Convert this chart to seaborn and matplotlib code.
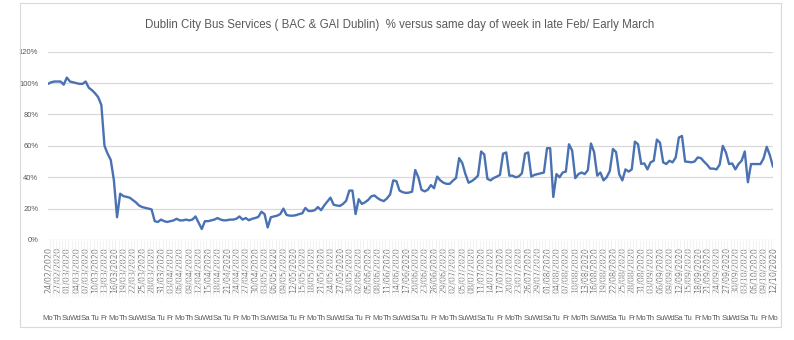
import numpy as np
import pandas as pd
import matplotlib
matplotlib.use("Agg")
import matplotlib.pyplot as plt
import seaborn as sns
from matplotlib.patches import Rectangle

# Daily range covered by the series
start_date = "2020-02-24"
end_date = "2020-10-12"

# Weekday abbreviations used on the second label row (Mon..Sun)
day_abbr = ["Mo", "Tu", "Wd", "Th", "Fr", "Sa", "Su"]

# Y axis ticks (percent)
y_ticks = [0, 20, 40, 60, 80, 100, 120]

title = ("Dublin City Bus Services ( BAC & GAI Dublin)  % versus same day of week "
         "in late Feb/ Early March")

# Passenger level, % of the same weekday in late Feb / early March (one row per week, Mon..Sun)
pct_of_baseline = [
    99.5, 100.5, 101, 101, 101, 99, 103.5,
    101, 100.5, 100, 99.5, 99.5, 101, 97,
    95.5, 93.5, 91, 86, 60, 55, 51,
    38, 14.5, 29.5, 28, 27.5, 27, 25.5,
    24, 22, 21, 20.5, 20, 19.5, 12,
    11.5, 13, 12, 11.5, 12, 12.5, 13.5,
    12.5, 12.5, 13, 12.5, 13, 15, 11,
    7, 12, 12, 12.5, 13, 14, 13,
    12.5, 12.6, 13, 13, 13.5, 15, 13,
    14, 12.6, 13.5, 14, 14.7, 18, 16.5,
    8, 14.5, 15, 15.5, 16.5, 20, 16,
    15.5, 15.5, 15.8, 16.5, 17, 20.4, 18.5,
    18.5, 19, 21, 19, 22, 24.5, 27,
    22.5, 22, 21.7, 23, 25, 31.5, 31.5,
    16.5, 26, 23, 24, 25.5, 27.8, 28.4,
    26.7, 25.5, 24.8, 26.5, 29, 38, 37.5,
    31.5, 30.5, 30, 30.2, 30.8, 44.6, 40,
    32, 31, 32, 35, 33, 40.4, 38,
    36.5, 35.8, 35.8, 37.8, 39.5, 52.2, 49,
    42, 36.5, 37.5, 39, 41, 56.4, 54.5,
    39, 38, 39.5, 40.4, 41.5, 55, 55.8,
    41, 41, 40, 40.5, 42.5, 55, 55.8,
    40.4, 41.5, 42, 42.5, 43, 58.5, 58.5,
    27.4, 42, 40, 43, 43.6, 61, 57,
    39.4, 42, 43, 42, 44.5, 61.5, 56,
    41, 43, 38, 40, 44, 58, 56,
    42, 38, 45, 43.6, 45, 62.7, 61,
    48.5, 48.8, 45, 49.5, 50.5, 64, 62,
    49.5, 48.4, 50.5, 49.5, 52.6, 65.3, 66.3,
    50, 49.8, 49.5, 50, 52.6, 52.2, 50,
    48, 45.5, 45.5, 45, 48, 60, 55.8,
    48.4, 48.8, 45, 48.4, 50.5, 56.4, 36.8,
    48.4, 48.4, 48.4, 48.4, 52, 59.4, 54,
    46.7,
]

dates = pd.date_range(start_date, end_date, freq="D")
df = pd.DataFrame({"date": dates, "pct": pct_of_baseline})
df["pos"] = np.arange(len(df))

sns.set_theme(style="white")
narrow = ["Liberation Sans Narrow", "Liberation Sans", "DejaVu Sans"]
plt.rcParams["font.family"] = narrow

label_grey = "#595959"
date_grey = "#7a7a7a"
W, H = 794, 340
fig = plt.figure(figsize=(W / 100, H / 100), dpi=100)
fig.patch.set_facecolor("white")

# Chart frame
fig.patches.append(Rectangle((20 / W, 1 - 327 / H), (781 - 20) / W, (327 - 3) / H,
                             transform=fig.transFigure, fill=False,
                             edgecolor="#d9d9d9", lw=0.8))

left, right, top, bottom = 48, 773, 51.7, 240
ax = fig.add_axes([left / W, 1 - bottom / H, (right - left) / W, (bottom - top) / H])

sns.lineplot(data=df, x="pos", y="pct", ax=ax, color="#4a72b2", lw=1.7)

ax.set_xlim(0, len(df) - 1)
ax.set_ylim(0, 120)
ax.set_xlabel("")
ax.set_ylabel("")
for s in ax.spines.values():
    s.set_visible(False)

ax.set_yticks(y_ticks)
ax.set_yticklabels([f"{v}%" for v in y_ticks], fontsize=5.5, color=label_grey)
ax.tick_params(axis="y", length=0, pad=7)
ax.yaxis.grid(True, color="#d9d9d9", lw=0.9)
ax.set_axisbelow(True)

# Date labels every third day, dividers at every day
major = df["pos"].values[::3]
ax.set_xticks(major)
ax.set_xticklabels([d.strftime("%d/%m/%Y") for d in df["date"].iloc[::3]],
                   rotation=90, fontsize=5.8, color=date_grey,
                   family="DejaVu Sans")
ax.set_xticks(df["pos"].values[:-1] + 0.5, minor=True)
ax.tick_params(axis="x", which="major", length=0, pad=5)
ax.tick_params(axis="x", which="minor", bottom=True, length=41, width=0.5,
               color="#ebebeb")

# Weekday row beneath the dates
trans = ax.get_xaxis_transform()
for p, d in zip(major, df["date"].iloc[::3]):
    ax.text(p, (bottom - 318) / (bottom - top), day_abbr[d.weekday()],
            transform=trans, ha="center", va="center", fontsize=5.6,
            color=label_grey)

fig.text(400 / W, 1 - 25 / H, title, ha="center", va="center",
         fontsize=8.3, color=label_grey)

fig.savefig("out.png", dpi=100)
